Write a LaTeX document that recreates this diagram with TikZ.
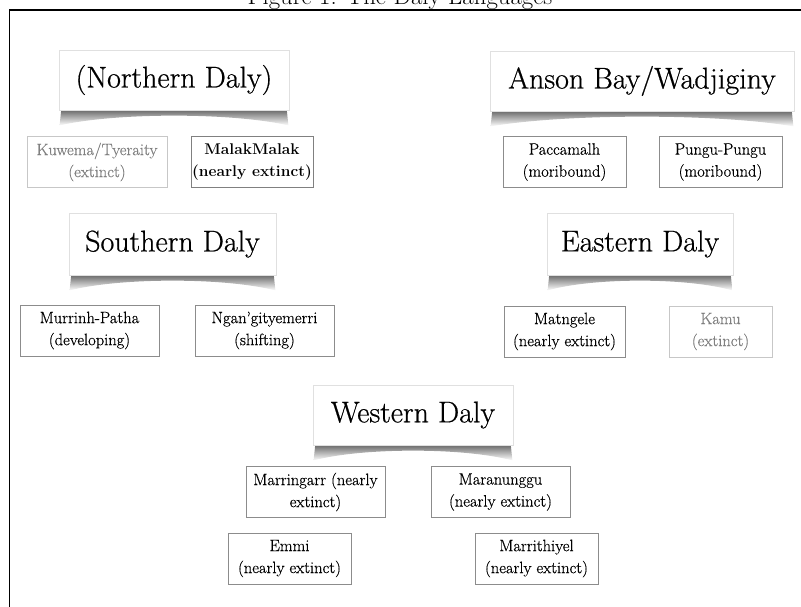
\documentclass[tikz,border=0pt]{standalone}
\usepackage{fontspec}
\newfontfamily\boxfont{Latin Modern Roman}[FakeBold=0.5, Ligatures=TeX]
\newfontfamily\hdrfont{Latin Modern Roman}[FakeBold=0.6, Ligatures=TeX]
\usetikzlibrary{calc,backgrounds}
\tikzset{
  hdr/.style={fill=white, draw=black!12, line width=0.8pt, font=\hdrfont\fontsize{30}{32}\selectfont, inner sep=0pt},
  lang/.style={draw=black!45, line width=1pt, fill=white, align=center, font=\boxfont\fontsize{16.5}{22}\selectfont, minimum height=51pt, inner sep=0pt},
  dead/.style={lang, draw=black!22, text=black!50},
  curl/.style={top color=black!72, bottom color=white},
}
\newcommand\curlshadow[1]{%
  \shade[curl]
    ($(#1.south west)+(3,-4)$) -- ($(#1.south west)+(1,15)$)
    .. controls ($(#1.south west)!0.25!(#1.south east)+(0,2)$) and ($(#1.south west)!0.75!(#1.south east)+(0,2)$) .. ($(#1.south east)+(-1,15)$)
    -- ($(#1.south east)+(-3,-4)$) -- cycle;}
\begin{document}
\begin{tikzpicture}[x=1pt,y=-1pt]
\useasboundingbox (0,0) rectangle (801,607);
\node[font=\fontsize{24.8}{28}\selectfont, anchor=base, inner sep=0pt] (title) at (400,4.5) {Figure 1: The Daly Languages};
\coordinate (fbl) at (9.5,607);
\coordinate (ftl) at (9.5,10);
\coordinate (ftr) at (801,10);
\draw[line width=1.1pt] (fbl) -- (ftl) -- (ftr);

% group headers
\node[hdr, minimum width=230pt, minimum height=60pt] (north) at (174,80) {(Northern Daly)};
\node[hdr, minimum width=304pt, minimum height=60pt] (anson) at (642,81) {Anson Bay/Wadjiginy};
\node[hdr, minimum width=207pt, minimum height=62pt] (south) at (172.5,244) {Southern Daly};
\node[hdr, minimum width=186pt, minimum height=62pt] (east) at (640,244) {Eastern Daly};
\node[hdr, minimum width=200pt, minimum height=60pt] (west) at (413,415) {Western Daly};

\begin{scope}[on background layer]
  \curlshadow{north}
  \curlshadow{anson}
  \curlshadow{south}
  \curlshadow{east}
  \curlshadow{west}
\end{scope}

% languages
\node[dead, minimum width=140pt] (kuwema) at (97,162) {Kuwema/Tyeraity\\(extinct)};
\node[lang, minimum width=122pt, draw=black!50, font=\fontsize{15.5}{22}\selectfont] (malak) at (252,162) {\bfseries MalakMalak\\\bfseries (nearly extinct)};
\node[lang, minimum width=123pt] (pacca) at (564.5,162) {Paccamalh\\(moribound)};
\node[lang, minimum width=123pt] (pungu) at (720.5,162) {Pungu-Pungu\\(moribound)};
\node[lang, minimum width=139pt] (murrinh) at (89.5,330.5) {Murrinh-Patha\\(developing)};
\node[lang, minimum width=139pt] (ngan) at (264.5,330.5) {Ngan’gityemerri\\(shifting)};
\node[lang, minimum width=121pt] (matngele) at (564.5,331.5) {Matngele\\(nearly extinct)};
\node[dead, minimum width=103pt] (kamu) at (720.5,331.5) {Kamu\\(extinct)};
\node[lang, minimum width=139pt] (marringarr) at (315.5,492) {Marringarr (nearly\\extinct)};
\node[lang, minimum width=139pt] (maranunggu) at (500.5,492) {Maranunggu\\(nearly extinct)};
\node[lang, minimum width=123pt] (emmi) at (289.5,558.5) {Emmi\\(nearly extinct)};
\node[lang, minimum width=123pt] (marrithiyel) at (536.5,558.5) {Marrithiyel\\(nearly extinct)};
\end{tikzpicture}
\end{document}
